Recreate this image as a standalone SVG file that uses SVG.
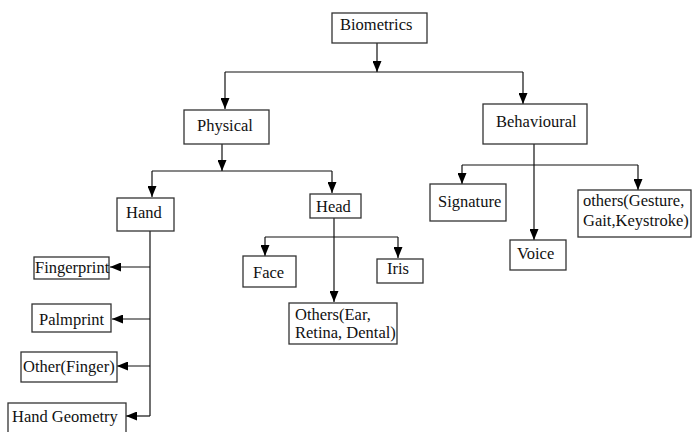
<svg xmlns="http://www.w3.org/2000/svg" width="692" height="432" viewBox="0 0 692 432">
<style>
.box{fill:#fff;stroke:#333;stroke-width:1.3}
.t{font-family:"Liberation Serif","Times New Roman",serif;font-size:16.5px;fill:#111}
.ln{stroke:#111;stroke-width:1.2;fill:none}
.ar{stroke:#111;stroke-width:1.2;fill:none;marker-end:url(#ah)}
</style>
<defs>
<marker id="ah" markerUnits="userSpaceOnUse" markerWidth="11" markerHeight="9" refX="11" refY="4.5" orient="auto">
<path d="M0,0 L11,4.5 L0,9 z" fill="#000"/>
</marker>
</defs>
<rect width="692" height="432" fill="#fff"/>
<g id="connectors">
<line class="ar" x1="377" y1="43" x2="377" y2="72"/>
<line class="ln" x1="225" y1="72" x2="523" y2="72"/>
<line class="ar" x1="225" y1="72" x2="225" y2="109"/>
<line class="ar" x1="523" y1="72" x2="523" y2="104"/>
<line class="ar" x1="222" y1="144" x2="222" y2="171"/>
<line class="ln" x1="152" y1="171" x2="332" y2="171"/>
<line class="ar" x1="152" y1="171" x2="152" y2="197"/>
<line class="ar" x1="332" y1="171" x2="332" y2="193"/>
<line class="ln" x1="150" y1="231" x2="150" y2="416"/>
<line class="ar" x1="150" y1="267" x2="110" y2="267"/>
<line class="ar" x1="150" y1="319" x2="112" y2="319"/>
<line class="ar" x1="150" y1="366" x2="117" y2="366"/>
<line class="ar" x1="150" y1="416" x2="126" y2="416"/>
<line class="ar" x1="334" y1="218" x2="334" y2="302"/>
<line class="ln" x1="265" y1="237" x2="398" y2="237"/>
<line class="ar" x1="265" y1="237" x2="265" y2="256"/>
<line class="ar" x1="398" y1="237" x2="398" y2="258"/>
<line class="ar" x1="534" y1="143" x2="534" y2="240"/>
<line class="ln" x1="462" y1="165" x2="638" y2="165"/>
<line class="ar" x1="462" y1="165" x2="462" y2="184"/>
<line class="ar" x1="638" y1="165" x2="638" y2="190"/>
</g>
<g id="biometrics"><rect class="box" x="332" y="13" width="95" height="30"/><text class="t" x="340" y="30">Biometrics</text></g>
<g id="physical"><rect class="box" x="184" y="110" width="85" height="34"/><text class="t" x="197" y="131">Physical</text></g>
<g id="behavioural"><rect class="box" x="483" y="104" width="104" height="40"/><text class="t" x="496" y="127">Behavioural</text></g>
<g id="hand"><rect class="box" x="117" y="198" width="57" height="33"/><text class="t" x="126" y="218">Hand</text></g>
<g id="head"><rect class="box" x="310" y="194" width="51" height="24"/><text class="t" x="316" y="212">Head</text></g>
<g id="fingerprint"><rect class="box" x="34" y="257" width="75" height="22"/><text class="t" x="35" y="273">Fingerprint</text></g>
<g id="palmprint"><rect class="box" x="32" y="304" width="79" height="28"/><text class="t" x="39" y="325">Palmprint</text></g>
<g id="otherfinger"><rect class="box" x="21" y="352" width="96" height="30"/><text class="t" x="23" y="372">Other(Finger)</text></g>
<g id="handgeometry"><rect class="box" x="8" y="403" width="118" height="35"/><text class="t" x="12" y="422">Hand Geometry</text></g>
<g id="face"><rect class="box" x="243" y="256" width="53" height="31"/><text class="t" x="253" y="278">Face</text></g>
<g id="iris"><rect class="box" x="377" y="259" width="46" height="24"/><text class="t" x="387" y="274">Iris</text></g>
<g id="othershead"><rect class="box" x="289" y="303" width="108" height="41"/><text class="t" x="295" y="320">Others(Ear,</text><text class="t" x="295" y="338">Retina, Dental)</text></g>
<g id="signature"><rect class="box" x="430" y="184" width="76" height="37"/><text class="t" x="438" y="207">Signature</text></g>
<g id="voice"><rect class="box" x="510" y="240" width="56" height="30"/><text class="t" x="517" y="259">Voice</text></g>
<g id="othersbeh"><rect class="box" x="578" y="190" width="113" height="47"/><text class="t" x="583" y="206">others(Gesture,</text><text class="t" x="583" y="226">Gait,Keystroke)</text></g>
</svg>
